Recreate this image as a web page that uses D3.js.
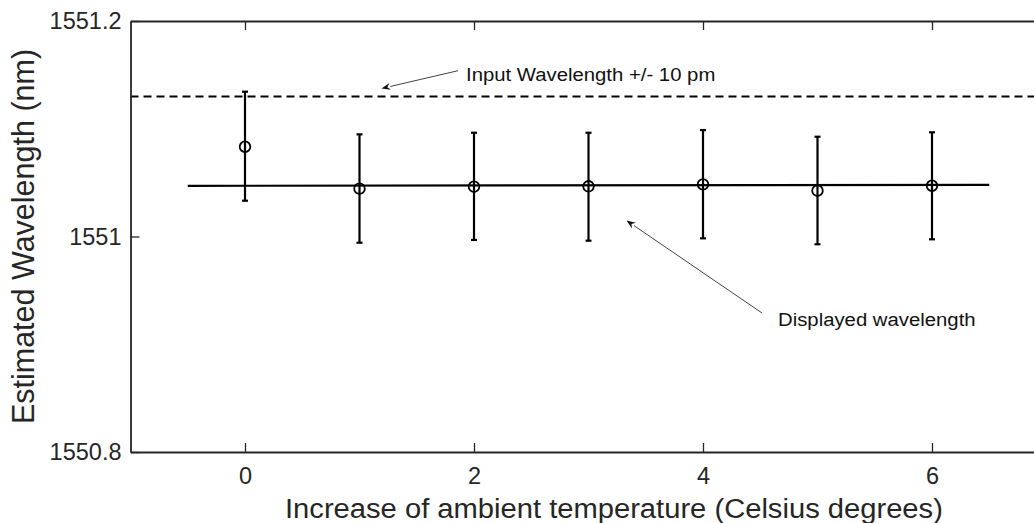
<!DOCTYPE html>
<html>
<head>
<meta charset="utf-8">
<script src="https://cdn.jsdelivr.net/npm/d3@7"></script>
<style>
  body { margin: 0; background: #fff; }
  svg { display: block; font-family: "Liberation Sans", Arial, sans-serif; }
</style>
</head>
<body>
<svg id="chart" width="1034" height="523"></svg>
<script>
// --- data ---
const temps     = [0, 1, 2, 3, 4, 5, 6];
const estimated = [1551.0833, 1551.0444, 1551.0462, 1551.0466, 1551.0484, 1551.0425, 1551.0471];
const upper     = [1551.1344, 1551.0948, 1551.0963, 1551.0963, 1551.0988, 1551.0926, 1551.0967];
const lower     = [1551.0332, 1550.9942, 1550.9968, 1550.9961, 1550.9983, 1550.9928, 1550.9974];

// displayed wavelength line and the input level (+10 pm)
const displayedX = [-0.5, 6.5];
const displayedY = [1551.047, 1551.048];
const inputLevel = 1551.130;

const xTicks = [0, 2, 4, 6];
const yTicks = [1550.8, 1551, 1551.2];

const xLabel = "Increase of ambient temperature (Celsius degrees)";
const yLabel = "Estimated Wavelength (nm)";

// --- layout ---
const svg = d3.select("#chart");
const ink = "#262626";

// x axis runs to 7, which sits just past the right edge of the picture
const x = d3.scaleLinear().domain([-1, 7]).range([130.5, 1046.5]);
const y = d3.scaleLinear().domain([1550.8, 1551.2]).range([452, 21]);

const plot = svg.append("g");

// dashed input wavelength line
plot.append("line")
    .attr("x1", x(-1)).attr("x2", x(7))
    .attr("y1", y(inputLevel)).attr("y2", y(inputLevel))
    .attr("stroke", "#000").attr("stroke-width", 2)
    .attr("stroke-dasharray", "8,5");

// displayed wavelength
plot.append("path")
    .datum(displayedX.map((d, i) => [d, displayedY[i]]))
    .attr("fill", "none").attr("stroke", "#000").attr("stroke-width", 2.2)
    .attr("d", d3.line().x(d => x(d[0])).y(d => y(d[1])));

// error bars
const bars = plot.selectAll(".bar")
    .data(temps.map((t, i) => ({ t, v: estimated[i], hi: upper[i], lo: lower[i] })))
    .enter().append("g").attr("class", "bar");

bars.append("line")
    .attr("x1", d => x(d.t)).attr("x2", d => x(d.t))
    .attr("y1", d => y(d.hi)).attr("y2", d => y(d.lo))
    .attr("stroke", "#000").attr("stroke-width", 2.2);

["hi", "lo"].forEach(k => {
    bars.append("line")
        .attr("x1", d => x(d.t) - 3).attr("x2", d => x(d.t) + 3)
        .attr("y1", d => y(d[k])).attr("y2", d => y(d[k]))
        .attr("stroke", "#000").attr("stroke-width", 2.2);
});

bars.append("circle")
    .attr("cx", d => x(d.t)).attr("cy", d => y(d.v))
    .attr("r", 5.3)
    .attr("fill", "none").attr("stroke", "#000").attr("stroke-width", 1.8);

// --- axes (ticks point inward) ---
const styleAxis = g => {
    g.select(".domain").attr("stroke", ink).attr("stroke-width", 1.8);
    g.selectAll(".tick line").attr("stroke", ink).attr("stroke-width", 1.3);
    g.selectAll(".tick text")
        .attr("fill", ink)
        .style("font-size", "23.5px");
};

svg.append("g")
    .attr("transform", `translate(0,${y(1550.8)})`)
    .call(d3.axisBottom(x).tickValues(xTicks).tickSizeInner(-9).tickSizeOuter(0).tickPadding(15))
    .call(styleAxis);

svg.append("g")
    .attr("transform", `translate(0,${y(1551.2)})`)
    .call(d3.axisTop(x).tickValues(xTicks).tickSizeInner(-9).tickSizeOuter(0).tickFormat(""))
    .call(styleAxis);

svg.append("g")
    .attr("transform", `translate(${x(-1)},0)`)
    .call(d3.axisLeft(y).tickValues(yTicks).tickSizeInner(-9).tickSizeOuter(0)
        .tickPadding(9).tickFormat(d => d3.format("")(d)))
    .call(styleAxis);

// axis labels
svg.append("text")
    .attr("transform", `translate(285,518) scale(1.08,1)`)
    .attr("fill", ink).style("font-size", "27px")
    .text(xLabel);

svg.append("text")
    .attr("transform", `translate(34,${(y(1550.8) + y(1551.2)) / 2}) rotate(-90)`)
    .attr("text-anchor", "middle")
    .attr("fill", ink).style("font-size", "30.5px")
    .text(yLabel);

// --- annotations ---
const notes = [
    { text: "Input Wavelength +/- 10 pm", tx: 466, ty: 80.5, from: [458, 70.7], to: [381.5, 88.5] },
    { text: "Displayed wavelength", tx: 778, ty: 325.5, from: [762, 313], to: [626.5, 220.5] }
];

notes.forEach(n => {
    const ang = Math.atan2(n.to[1] - n.from[1], n.to[0] - n.from[0]);
    const len = 9, half = 3.5;
    const bx = n.to[0] - len * Math.cos(ang), by = n.to[1] - len * Math.sin(ang);
    svg.append("line")
        .attr("x1", n.from[0]).attr("y1", n.from[1])
        .attr("x2", bx).attr("y2", by)
        .attr("stroke", "#444").attr("stroke-width", 1);
    svg.append("path")
        .attr("d", d3.line()([
            n.to,
            [bx + half * Math.sin(ang), by - half * Math.cos(ang)],
            [n.to[0] - 6 * Math.cos(ang), n.to[1] - 6 * Math.sin(ang)],
            [bx - half * Math.sin(ang), by + half * Math.cos(ang)]
        ]) + "Z")
        .attr("fill", "#111");
    svg.append("text")
        .attr("transform", `translate(${n.tx},${n.ty}) scale(1.07,1)`)
        .attr("fill", "#111").style("font-size", "19px")
        .text(n.text);
});
</script>
</body>
</html>
